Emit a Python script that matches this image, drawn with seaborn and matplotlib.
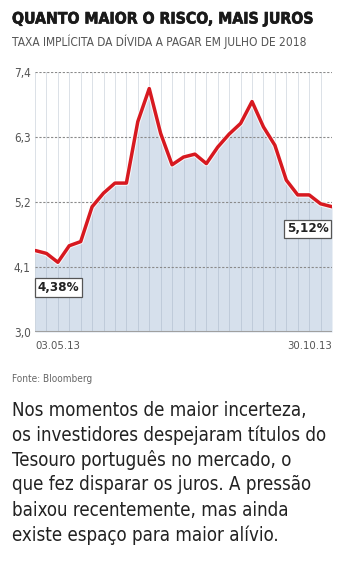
import matplotlib
matplotlib.use("Agg")
import matplotlib.pyplot as plt
import matplotlib.patheffects as pe
from matplotlib.font_manager import FontProperties
from matplotlib import font_manager as fm
import seaborn as sns
import pandas as pd

# ---- data ----
week_index = list(range(27))
taxa = [4.38, 4.33, 4.18, 4.46, 4.53, 5.12, 5.35, 5.52, 5.52, 6.56,
        7.12, 6.36, 5.83, 5.96, 6.01, 5.85, 6.13, 6.35, 6.53, 6.90,
        6.47, 6.16, 5.57, 5.32, 5.32, 5.17, 5.12]
x_labels = ["03.05.13", "30.10.13"]
y_ticks = [3.0, 4.1, 5.2, 6.3, 7.4]
y_tick_labels = ["3,0", "4,1", "5,2", "6,3", "7,4"]
title = "QUANTO MAIOR O RISCO, MAIS JUROS"
subtitle = "TAXA IMPLÍCITA DA DÍVIDA A PAGAR EM JULHO DE 2018"
source = "Fonte: Bloomberg"
body = ["Nos momentos de maior incerteza,",
        "os investidores despejaram títulos do",
        "Tesouro português no mercado, o",
        "que fez disparar os juros. A pressão",
        "baixou recentemente, mas ainda",
        "existe espaço para maior alívio."]

df = pd.DataFrame({"semana": week_index, "taxa": taxa})

sns.set_theme(style="white")
plt.rcParams["font.family"] = ["Roboto", "DejaVu Sans"]

# look for a condensed / narrow face
def find_face(bold):
    best = None
    for f in fm.fontManager.ttflist:
        p = f.fname
        low = p.lower()
        if not ("condensed" in low or "narrow" in low):
            continue
        if "oblique" in low or "italic" in low:
            continue
        is_bold = "bold" in low
        if is_bold != bold:
            continue
        if "light" in low or "black" in low or "thin" in low or "medium" in low:
            continue
        best = p
        if "dejavu" in low or "roboto" in low:
            break
    return best

reg_path = find_face(False)
bold_path = find_face(True)
fp_reg = FontProperties(fname=reg_path) if reg_path else FontProperties(family=["Roboto", "DejaVu Sans"])
fp_bold = FontProperties(fname=bold_path) if bold_path else FontProperties(family=["Roboto", "DejaVu Sans"], weight="bold")

W, H = 351, 561
fig = plt.figure(figsize=(W / 100, H / 100), dpi=100)
fig.patch.set_facecolor("white")
renderer = fig.canvas.get_renderer()

def fx(px):
    return px / W

def fy(py):
    return 1 - py / H

def fit(t, target_w, max_size):
    bb = t.get_window_extent(renderer)
    s = t.get_fontsize() * target_w / bb.width
    t.set_fontsize(min(s, max_size))
    return t.get_fontsize()

ax = fig.add_axes([fx(35), fy(332), fx(332) - fx(35), fy(72) - fy(332)])

ax.fill_between(df["semana"], df["taxa"], 3.0, color="#d6e0ec", zorder=1, lw=0)
for xi in week_index:
    ax.axvline(xi, color="#8a9bb0", alpha=0.3, lw=0.7, zorder=2)
for yt in y_ticks[1:]:
    ax.axhline(yt, color="#8a8a8a", lw=0.8, ls=(0, (2, 1.5)), zorder=3)
ax.axhline(3.0, color="#a0a0a0", lw=1.5, zorder=3)

sns.lineplot(data=df, x="semana", y="taxa", ax=ax, color="#d71920", lw=2.5,
             zorder=5, legend=False,
             path_effects=[pe.Stroke(linewidth=4.0, foreground="#ffffff", alpha=0.8), pe.Normal()])

ax.set_xlim(0, 26)
ax.set_ylim(3.0, 7.4)
for s in ax.spines.values():
    s.set_visible(False)
ax.set_xticks([])
ax.set_yticks(y_ticks)
ax.set_yticklabels(y_tick_labels, fontproperties=fp_reg, fontsize=8.5, color="#555555")
ax.tick_params(axis="y", length=0, pad=3)
ax.set_xlabel("")
ax.set_ylabel("")

t0 = ax.text(0, -0.035, x_labels[0], transform=ax.transAxes, ha="left", va="top",
             fontproperties=fp_reg, fontsize=9, color="#555555")
xs = fit(t0, 45, 10)
ax.text(1, -0.035, x_labels[1], transform=ax.transAxes, ha="right", va="top",
        fontproperties=fp_reg, fontsize=xs, color="#555555")

def fmt(v):
    return f"{v:.2f}".replace(".", ",") + "%"

box = dict(boxstyle="square,pad=0.2", fc="white", ec="#555555", lw=0.9)
ax.annotate(fmt(taxa[0]), xy=(week_index[0], taxa[0]), xytext=(16.6, -26.6),
            textcoords="offset points", ha="center", va="center",
            fontproperties=fp_bold, fontsize=9.6, color="#222222", bbox=box, zorder=6)
ax.annotate(fmt(taxa[-1]), xy=(week_index[-1], taxa[-1]), xytext=(-17.6, -16),
            textcoords="offset points", ha="center", va="center",
            fontproperties=fp_bold, fontsize=9.6, color="#222222", bbox=box, zorder=6)

tt = fig.text(fx(12), fy(19), title, ha="left", va="center", fontproperties=fp_bold,
              fontsize=13, color="#1a1a1a",
              path_effects=[pe.withStroke(linewidth=0.45, foreground="#1a1a1a")])
fit(tt, 300, 13.8)
st = fig.text(fx(12), fy(42), subtitle, ha="left", va="center", fontproperties=fp_reg,
              fontsize=8.2, color="#555555")
fit(st, 303, 8.6)
so = fig.text(fx(12), fy(379), source, ha="left", va="center", fontproperties=fp_reg,
              fontsize=6.8, color="#666666")
fit(so, 80, 7.2)
lines = []
for i, line in enumerate(body):
    lines.append(fig.text(fx(12), fy(410 + 25 * i), line, ha="left", va="center",
                          fontproperties=fp_reg, fontsize=13.2, color="#222222"))
bsize = fit(lines[1], 316, 13.5)
for t in lines:
    t.set_fontsize(bsize)

fig.savefig("out.png", dpi=100, facecolor="white")
